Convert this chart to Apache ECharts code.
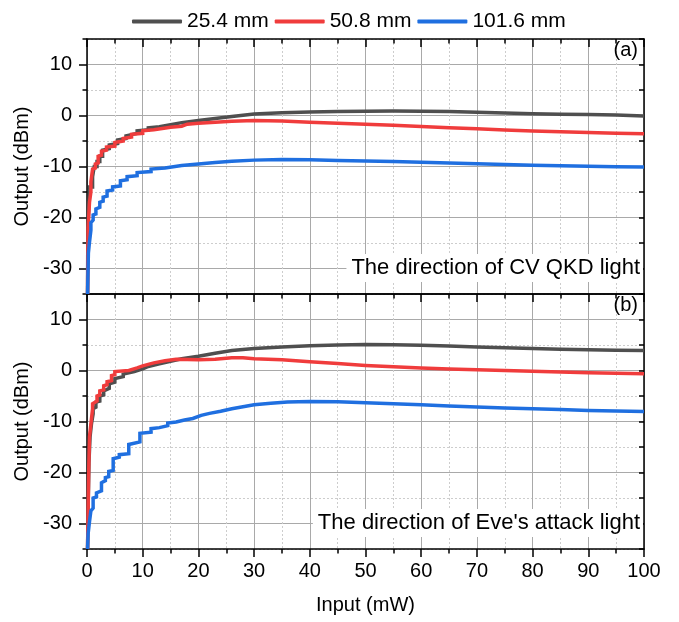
<!DOCTYPE html>
<html>
<head>
<meta charset="utf-8">
<script src="https://cdn.jsdelivr.net/npm/echarts@6/dist/echarts.min.js"></script>
<style>
  html, body { margin: 0; padding: 0; background: #ffffff; }
  #chart { width: 679px; height: 622px; }
</style>
</head>
<body>
<div id="chart"></div>
<script>
// Fibre lengths (legend) and their line colours
const seriesNames = ['25.4 mm', '50.8 mm', '101.6 mm'];
const seriesColors = ['#4f4f4f', '#f03c3c', '#1f6fe0'];

// Labelled output ticks (dBm) and panel captions
const yMajorTicks = [-30, -20, -10, 0, 10];
const panelTags = ['(a)', '(b)'];
const panelNotes = ['The direction of CV QKD light', "The direction of Eve's attack light"];

// Panel (a): [input mW, output dBm]; repeated inputs are the meter's quantisation steps
const aGray = [
  [0.1, -35], [0.15, -22], [0.35, -17], [0.5, -15], [0.5, -14], [1.0, -14], [1.0, -12],
  [1.3, -12], [1.3, -10], [1.8, -10], [1.8, -9], [2.3, -9], [2.3, -8], [2.8, -8],
  [2.8, -6.8], [4.0, -6.5], [4.0, -5.8], [5.5, -5.5], [5.5, -4.8], [7, -4.5], [7, -4.0],
  [9, -3.5], [9, -3.0], [11, -2.8], [11, -2.4], [13, -2.2], [13, -1.9], [15, -1.8],
  [17, -1.4], [20, -1.0], [20, -0.8], [23, -0.6], [26, -0.2], [30, 0.3], [35, 0.55],
  [40, 0.7], [45, 0.8], [50, 0.85], [55, 0.9], [60, 0.85], [65, 0.8], [70, 0.65],
  [75, 0.5], [80, 0.35], [85, 0.25], [90, 0.2], [95, 0.1], [100, -0.1]
];
const aRed = [
  [0.1, -35], [0.2, -22], [0.45, -17], [0.7, -15], [0.7, -13], [1.0, -13], [1.0, -10.5],
  [1.5, -10.3], [1.5, -9.5], [2.0, -9.3], [2.0, -8], [2.6, -7.8], [2.6, -7], [3.5, -6.8],
  [3.5, -6.2], [5.0, -6.0], [5.0, -5.3], [6.5, -5.0], [6.5, -4.5], [8, -4.2], [8, -3.7],
  [10, -3.5], [10, -3.0], [12, -2.8], [12, -2.5], [15, -2.3], [17, -2.1], [18, -1.7],
  [20, -1.5], [23, -1.3], [26, -1.15], [30, -1.0], [35, -1.1], [40, -1.3], [45, -1.5],
  [50, -1.7], [55, -1.9], [60, -2.15], [65, -2.4], [70, -2.6], [75, -2.85], [80, -3.05],
  [85, -3.2], [90, -3.35], [95, -3.5], [100, -3.6]
];
const aBlue = [
  [0.1, -35], [0.25, -27], [0.45, -24.8], [0.7, -22.5], [0.7, -21], [1.1, -20.5],
  [1.1, -19.5], [1.6, -19.3], [1.6, -18.3], [2.3, -18], [2.3, -17], [2.9, -16.8],
  [2.9, -16], [3.6, -15.8], [3.6, -14.8], [4.6, -14.6], [4.6, -14], [6, -13.8],
  [6, -12.8], [7.2, -12.6], [7.2, -12], [9, -11.8], [9, -11.2], [11.5, -11],
  [11.5, -10.5], [14, -10.3], [14, -10], [17, -9.8], [20, -9.5], [23, -9.2], [26, -8.95],
  [30, -8.75], [35, -8.65], [40, -8.7], [45, -8.8], [50, -8.9], [55, -9.0], [60, -9.15],
  [65, -9.3], [70, -9.45], [75, -9.6], [80, -9.75], [85, -9.85], [90, -9.95],
  [95, -10.05], [100, -10.1]
];

// Panel (b): [input mW, output dBm]
const bGray = [
  [0.1, -35], [0.2, -27], [0.35, -18], [0.55, -13], [0.8, -10.5], [1.1, -8.5], [1.1, -7.5],
  [1.6, -7.2], [1.6, -6.2], [2.3, -6], [2.3, -5], [3, -4.8], [3, -4], [4, -3.5], [4, -2.6],
  [5, -2.3], [5, -1.6], [6.5, -1.2], [6.5, -0.7], [8.5, -0.2], [10, 0.3], [11, 0.8],
  [13, 1.3], [15, 1.8], [17, 2.3], [20, 2.8], [20, 3.1], [23, 3.4], [26, 3.9], [30, 4.3],
  [35, 4.6], [40, 4.85], [45, 5.0], [50, 5.1], [55, 5.05], [60, 4.95], [65, 4.8],
  [70, 4.6], [75, 4.45], [80, 4.3], [85, 4.15], [90, 4.05], [95, 3.95], [100, 3.9]
];
const bRed = [
  [0.1, -35], [0.2, -28], [0.3, -20], [0.45, -13], [0.7, -10.5], [1.0, -7.5], [1.0, -6.5],
  [1.8, -6], [1.8, -5], [2.3, -4.8], [2.3, -4], [3.0, -3.8], [3.0, -3], [3.6, -2.8],
  [3.6, -2.2], [4.4, -2.0], [4.4, -1], [5.0, -0.8], [5.0, -0.2], [7.5, 0], [7.5, 0.3],
  [9, 0.5], [10, 0.9], [12, 1.5], [14, 1.9], [16, 2.2], [20, 2.1], [23, 2.2], [26, 2.5],
  [28, 2.5], [30, 2.3], [35, 2.1], [40, 1.7], [45, 1.35], [50, 1.0], [55, 0.75],
  [60, 0.5], [65, 0.3], [70, 0.13], [75, 0], [80, -0.15], [85, -0.3], [90, -0.45],
  [95, -0.55], [100, -0.65]
];
const bBlue = [
  [0.1, -35], [0.2, -32], [0.45, -29.6], [0.7, -29.4], [0.7, -27.5], [1.1, -27],
  [1.1, -25], [1.7, -24.8], [1.7, -24], [2.6, -23.6], [2.6, -22], [3.3, -21.6],
  [3.3, -21], [3.9, -20.8], [3.9, -19.8], [4.7, -19.6], [4.7, -17.3], [5.8, -17],
  [5.8, -16.5], [7.5, -16.3], [7.5, -14.5], [9.5, -14], [9.5, -12.3], [11.5, -12.1],
  [11.5, -11.4], [13, -11.2], [14.5, -10.8], [14.5, -10.3], [16, -10.1], [17.5, -9.7],
  [19, -9.4], [20.5, -8.8], [22, -8.4], [24, -8.0], [26, -7.5], [28, -7.1], [30, -6.7],
  [33, -6.4], [36, -6.2], [40, -6.1], [45, -6.15], [50, -6.3], [55, -6.5], [60, -6.7],
  [65, -6.95], [70, -7.15], [75, -7.35], [80, -7.5], [85, -7.65], [90, -7.85],
  [95, -7.95], [100, -8.05]
];

const panelData = [[aGray, aRed, aBlue], [bGray, bRed, bBlue]];

const FONT = 'Liberation Sans, Arial, sans-serif';
const INK = '#000000';
const MAJOR_GRID = '#a9a9a9';
const MINOR_GRID = '#cdcdcd';
const axisLineStyle = { color: INK, width: 1.5 };

const grids = [
  { left: 87, top: 39, width: 557, height: 255 },
  { left: 87, top: 294, width: 557, height: 255 }
];

const xAxes = [];
const yAxes = [];
const series = [];

for (let p = 0; p < 2; p++) {
  const isBottom = p === 1;
  // Input axis along the lower edge of the panel
  xAxes.push({
    gridIndex: p, type: 'value', min: 0, max: 100, interval: 10, position: 'bottom',
    axisLine: { show: true, onZero: false, lineStyle: axisLineStyle },
    axisTick: { show: isBottom, length: 8, lineStyle: axisLineStyle },
    minorTick: { show: isBottom, splitNumber: 2, length: 4.5, lineStyle: axisLineStyle },
    axisLabel: { show: isBottom, fontSize: 20, fontFamily: FONT, color: INK, margin: 12 },
    splitLine: { show: true, lineStyle: { color: MAJOR_GRID, width: 1 } },
    minorSplitLine: { show: true, lineStyle: { color: MINOR_GRID, width: 1, type: [2, 2] } },
    name: isBottom ? 'Input (mW)' : '', nameLocation: 'middle', nameGap: 46,
    nameTextStyle: { fontSize: 20, fontFamily: FONT, color: INK }
  });
  // Frame edge on top with inward ticks
  xAxes.push({
    gridIndex: p, type: 'value', min: 0, max: 100, interval: 10, position: 'top',
    axisLine: { show: true, onZero: false, lineStyle: axisLineStyle },
    axisTick: { show: true, inside: true, length: 8, lineStyle: axisLineStyle },
    minorTick: { show: true, splitNumber: 2, length: 4.5, lineStyle: axisLineStyle },
    axisLabel: { show: false }, splitLine: { show: false }
  });

  // Half-step output grid (dotted) with short ticks
  yAxes.push({
    gridIndex: p, type: 'value', min: -35, max: 15, interval: 5, position: 'left',
    axisLine: { show: false },
    axisTick: { show: true, length: 4.5, lineStyle: axisLineStyle },
    axisLabel: { show: false },
    splitLine: { show: true, lineStyle: { color: MINOR_GRID, width: 1, type: [2, 2] } }
  });
  // Labelled output axis
  yAxes.push({
    gridIndex: p, type: 'value', min: -35, max: 15, position: 'left',
    axisLine: { show: true, onZero: false, lineStyle: axisLineStyle },
    axisTick: { show: true, length: 8, customValues: yMajorTicks, lineStyle: axisLineStyle },
    axisLabel: { show: true, customValues: yMajorTicks, fontSize: 20, fontFamily: FONT, color: INK, margin: 15 },
    splitLine: { show: true, lineStyle: { color: MAJOR_GRID, width: 1 } },
    name: 'Output (dBm)', nameLocation: 'middle', nameGap: 50,
    nameTextStyle: { fontSize: 20, fontFamily: FONT, color: INK }
  });
  // Frame edge on the right with inward ticks
  yAxes.push({
    gridIndex: p, type: 'value', min: -35, max: 15, interval: 5, position: 'right',
    axisLine: { show: true, onZero: false, lineStyle: axisLineStyle },
    axisTick: { show: true, inside: true, length: 5, lineStyle: axisLineStyle },
    axisLabel: { show: false }, splitLine: { show: false }
  });

  panelData[p].forEach((pts, i) => {
    series.push({
      name: seriesNames[i], type: 'line', xAxisIndex: 2 * p, yAxisIndex: 3 * p + 1,
      data: pts, symbol: 'none', showSymbol: false, clip: true,
      color: seriesColors[i],
      lineStyle: { color: seriesColors[i], width: 3.5, join: 'miter' },
      emphasis: { disabled: true }, z: 3 + i
    });
  });
}

const titles = [];
for (let p = 0; p < 2; p++) {
  const top = grids[p].top;
  titles.push({
    text: panelTags[p], right: 41, top: top + 1, padding: 0,
    textStyle: { fontSize: 20, fontWeight: 'normal', fontFamily: FONT, color: INK }
  });
  titles.push({
    text: panelNotes[p], right: 36, top: top + 215,
    backgroundColor: '#ffffff', padding: [2, 3, 2, 5],
    textStyle: { fontSize: 22, lineHeight: 24, fontWeight: 'normal', fontFamily: FONT, color: INK }
  });
}

const chart = echarts.init(document.getElementById('chart'), null, { renderer: 'canvas' });
chart.setOption({
  animation: false,
  backgroundColor: '#ffffff',
  title: titles,
  legend: {
    data: seriesNames, left: 127, top: 6, icon: 'roundRect',
    itemWidth: 50, itemHeight: 4, itemGap: 6,
    textStyle: { fontSize: 21, fontFamily: FONT, color: INK }
  },
  grid: grids,
  xAxis: xAxes,
  yAxis: yAxes,
  series: series
});
</script>
</body>
</html>
